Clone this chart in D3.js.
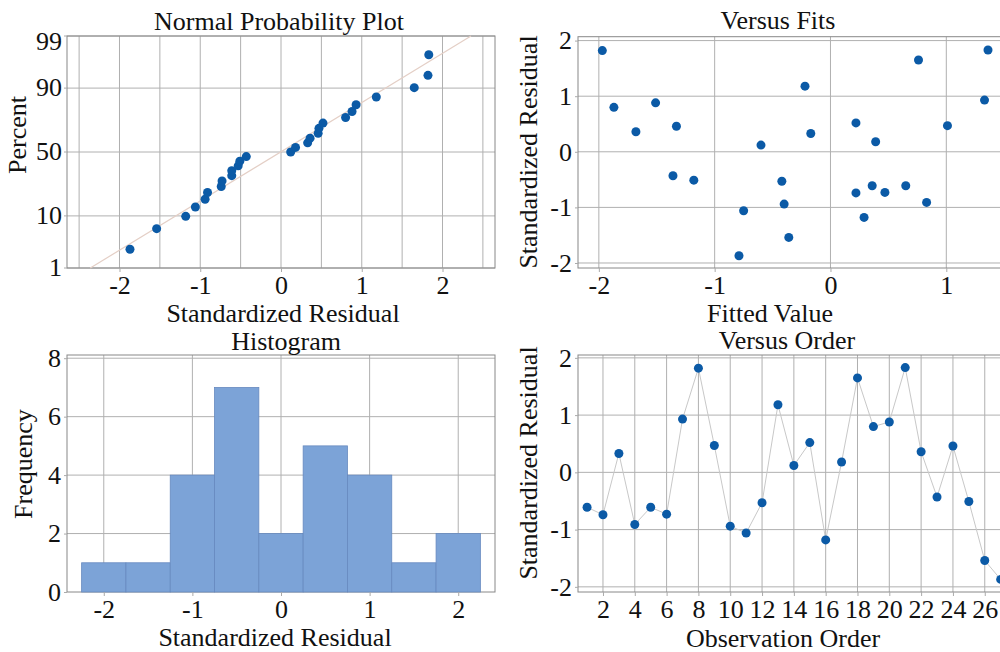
<!DOCTYPE html>
<html>
<head>
<meta charset="utf-8">
<script src="https://cdn.jsdelivr.net/npm/d3@7"></script>
<style>
  body { margin: 0; background: #fff; }
  text { font-family: "Liberation Serif", "Times New Roman", serif; fill: #111; }
</style>
</head>
<body>
<svg id="chart" width="1000" height="652"></svg>
<script>
// standardized residuals, in observation order
const residuals = [-0.61, -0.74, 0.33, -0.91, -0.61, -0.73, 0.93, 1.82, 0.47, -0.94,
  -1.06, -0.53, 1.18, 0.12, 0.52, -1.18, 0.18, 1.65, 0.80, 0.88,
  1.83, 0.36, -0.43, 0.46, -0.51, -1.54, -1.87]
// fitted values for the same observations
const fitted = [0.36, 0.22, -0.17, 0.83, 0.65, 0.47, 1.33, -1.97, 1.01, -0.40,
  -0.75, -0.42, -0.22, -0.60, 0.22, 0.29, 0.39, 0.76, -1.87, -1.51,
  1.36, -1.68, -1.36, -1.33, -1.18, -0.36, -0.79]

const percentTicks = [1, 10, 50, 90, 99]
const residTicks = [-2, -1, 0, 1, 2]
const probGrid = [-2.5, -2, -1.5, -1, -0.5, 0, 0.5, 1, 1.5, 2, 2.5]
const fitTicks = [-2, -1, 0, 1]
const binEdges = [-2.25, -1.75, -1.25, -0.75, -0.25, 0.25, 0.75, 1.25, 1.75, 2.25]
const freqTicks = [0, 2, 4, 6, 8]
const orderTicks = [2, 4, 6, 8, 10, 12, 14, 16, 18, 20, 22, 24, 26]

const dotColor = '#0b5aa6'
const gridColor = '#b0b0b0'
const frameColor = '#888'
const fontSize = 26

// inverse normal cdf (Acklam)
function probit(p) {
  const a = [-39.69683028665376, 220.9460984245205, -275.9285104469687, 138.3577518672690, -30.66479806614716, 2.506628277459239]
  const b = [-54.47609879822406, 161.5858368580409, -155.6989798598866, 66.80131188771972, -13.28068155288572]
  const c = [-0.007784894002430293, -0.3223964580411365, -2.400758277161838, -2.549732539343734, 4.374664141464968, 2.938163982698783]
  const d = [0.007784695709041462, 0.3224671290700398, 2.445134137142996, 3.754408661907416]
  const pl = 0.02425
  if (p < pl) {
    const q = Math.sqrt(-2 * Math.log(p))
    return (((((c[0] * q + c[1]) * q + c[2]) * q + c[3]) * q + c[4]) * q + c[5]) / ((((d[0] * q + d[1]) * q + d[2]) * q + d[3]) * q + 1)
  }
  if (p > 1 - pl) return -probit(1 - p)
  const q = p - 0.5, r = q * q
  return (((((a[0] * r + a[1]) * r + a[2]) * r + a[3]) * r + a[4]) * r + a[5]) * q / (((((b[0] * r + b[1]) * r + b[2]) * r + b[3]) * r + b[4]) * r + 1)
}

let svg = d3.select('#chart')

function panel(x, y, xGrid, yGrid) {
  let g = svg.append('g')
  let [x0, x1] = x.range()
  let [y0, y1] = y.range()
  g.selectAll('.vgrid')
    .data(xGrid)
    .enter()
    .append('line')
    .attr('x1', d => x(d)).attr('x2', d => x(d))
    .attr('y1', y0).attr('y2', y1)
    .attr('stroke', gridColor)
  g.selectAll('.hgrid')
    .data(yGrid)
    .enter()
    .append('line')
    .attr('x1', x0).attr('x2', x1)
    .attr('y1', d => y(d)).attr('y2', d => y(d))
    .attr('stroke', gridColor)
  return g
}

function frame(g, x, y) {
  let [x0, x1] = x.range()
  let [y0, y1] = y.range()
  g.append('rect')
    .attr('x', x0).attr('y', y1)
    .attr('width', x1 - x0).attr('height', y0 - y1)
    .attr('fill', 'none')
    .attr('stroke', frameColor)
}

function styleAxis(a) {
  a.select('.domain').remove()
  a.selectAll('line').attr('stroke', '#aaa')
  a.selectAll('text')
    .attr('font-family', '"Liberation Serif", serif')
    .attr('font-size', fontSize)
    .attr('fill', '#111')
    .text(function() { return d3.select(this).text().replace('−', '-') })
}

function axes(g, x, y, xTicks, yTicks) {
  let [y0] = y.range()
  let [x0] = x.range()
  g.append('g')
    .attr('transform', `translate(0,${y0})`)
    .call(d3.axisBottom(x).tickValues(xTicks).tickSize(4).tickPadding(4).tickSizeOuter(0).tickFormat(d3.format('d')))
    .call(styleAxis)
  g.append('g')
    .attr('transform', `translate(${x0},0)`)
    .call(d3.axisLeft(y).tickValues(yTicks).tickSize(3).tickPadding(3).tickSizeOuter(0).tickFormat(d3.format('d')))
    .call(styleAxis)
}

function label(text, x, y, rotate) {
  svg.append('text')
    .attr('transform', `translate(${x},${y})` + (rotate ? ' rotate(-90)' : ''))
    .attr('text-anchor', 'middle')
    .attr('font-size', fontSize)
    .text(text)
}

// ---- Normal probability plot
{
  let x = d3.scaleLinear().domain([-2.65, 2.65]).range([67, 495])
  let z = d3.scaleLinear().domain([probit(0.01), probit(0.99)]).range([268, 36])
  let pz = p => z(probit(p / 100))
  let g = panel(x, z, probGrid, percentTicks.map(p => probit(p / 100)))
  frame(g, x, z)

  let n = residuals.length
  let sorted = residuals.slice().sort(d3.ascending)
  let mean = d3.mean(residuals)
  let sd = d3.deviation(residuals)

  // fitted normal line
  g.append('line')
    .attr('x1', x(mean + sd * probit(0.01))).attr('y1', z(probit(0.01)))
    .attr('x2', x(mean + sd * probit(0.99))).attr('y2', z(probit(0.99)))
    .attr('stroke', '#e4cfc6')
    .attr('stroke-width', 1.2)

  // Benard median ranks
  g.selectAll('.pt')
    .data(sorted)
    .enter()
    .append('circle')
    .attr('cx', d => x(d))
    .attr('cy', (d, i) => z(probit((i + 1 - 0.3) / (n + 0.4))))
    .attr('r', 4.5)
    .attr('fill', dotColor)

  g.append('g')
    .attr('transform', 'translate(0,268)')
    .call(d3.axisBottom(x).tickValues(residTicks).tickSize(4).tickPadding(4).tickSizeOuter(0).tickFormat(d3.format('d')))
    .call(styleAxis)

  let ay = g.append('g').attr('transform', 'translate(67,0)')
  ay.selectAll('.tick')
    .data(percentTicks)
    .enter()
    .append('g')
    .attr('transform', d => `translate(0,${pz(d)})`)
    .each(function(d) {
      let t = d3.select(this)
      t.append('line').attr('x2', -3).attr('stroke', '#aaa')
      t.append('text')
        .attr('x', -5)
        .attr('dy', d === 99 ? '0.55em' : '0.32em')
        .attr('text-anchor', 'end')
        .attr('font-size', fontSize)
        .text(d)
    })

  label('Normal Probability Plot', 279, 30)
  label('Standardized Residual', 283, 322)
  label('Percent', 26, 135, true)
}

// ---- Versus fits
{
  let x = d3.scaleLinear().domain([-2.18, 1.55]).range([578, 1010])
  let y = d3.scaleLinear().domain([-2.09, 2.07]).range([268, 36.7])
  let g = panel(x, y, fitTicks, residTicks)
  frame(g, x, y)
  g.selectAll('.pt')
    .data(residuals)
    .enter()
    .append('circle')
    .attr('cx', (d, i) => x(fitted[i]))
    .attr('cy', d => y(d))
    .attr('r', 4.5)
    .attr('fill', dotColor)
  axes(g, x, y, fitTicks, residTicks)

  label('Versus Fits', 778, 29)
  label('Fitted Value', 770, 322)
  label('Standardized Residual', 537, 152, true)
}

// ---- Histogram
{
  let x = d3.scaleLinear().domain([-2.415, 2.415]).range([67, 495])
  let y = d3.scaleLinear().domain([0, 8.11]).range([592, 355])
  let g = panel(x, y, residTicks, freqTicks.slice(1))
  frame(g, x, y)

  let bins = d3.bin()
    .domain([binEdges[0], binEdges[binEdges.length - 1]])
    .thresholds(binEdges.slice(1, -1))(residuals)

  g.selectAll('.bar')
    .data(bins)
    .enter()
    .append('rect')
    .attr('class', 'bar')
    .attr('x', d => x(d.x0))
    .attr('width', d => x(d.x1) - x(d.x0))
    .attr('y', d => y(d.length))
    .attr('height', d => y(0) - y(d.length))
    .attr('fill', '#7ca3d7')
    .attr('stroke', '#6689bf')
    .attr('stroke-width', 0.8)
  axes(g, x, y, residTicks, freqTicks)

  label('Histogram', 286, 350)
  label('Standardized Residual', 275, 646)
  label('Frequency', 32, 464, true)
}

// ---- Versus order
{
  let x = d3.scaleLinear().domain([0.43, 27.65]).range([578, 1011])
  let y = d3.scaleLinear().domain([-2.09, 2.05]).range([592, 355])
  let g = panel(x, y, orderTicks, residTicks)
  frame(g, x, y)

  let line = d3.line()
    .x((d, i) => x(i + 1))
    .y(d => y(d))
  g.append('path')
    .datum(residuals)
    .attr('d', line)
    .attr('fill', 'none')
    .attr('stroke', '#c8c8c8')
    .attr('stroke-width', 1)

  g.selectAll('.pt')
    .data(residuals)
    .enter()
    .append('circle')
    .attr('cx', (d, i) => x(i + 1))
    .attr('cy', d => y(d))
    .attr('r', 4.5)
    .attr('fill', dotColor)
  axes(g, x, y, orderTicks, residTicks)

  label('Versus Order', 787, 349)
  label('Observation Order', 783, 647)
  label('Standardized Residual', 537, 463, true)
}
</script>
</body>
</html>
